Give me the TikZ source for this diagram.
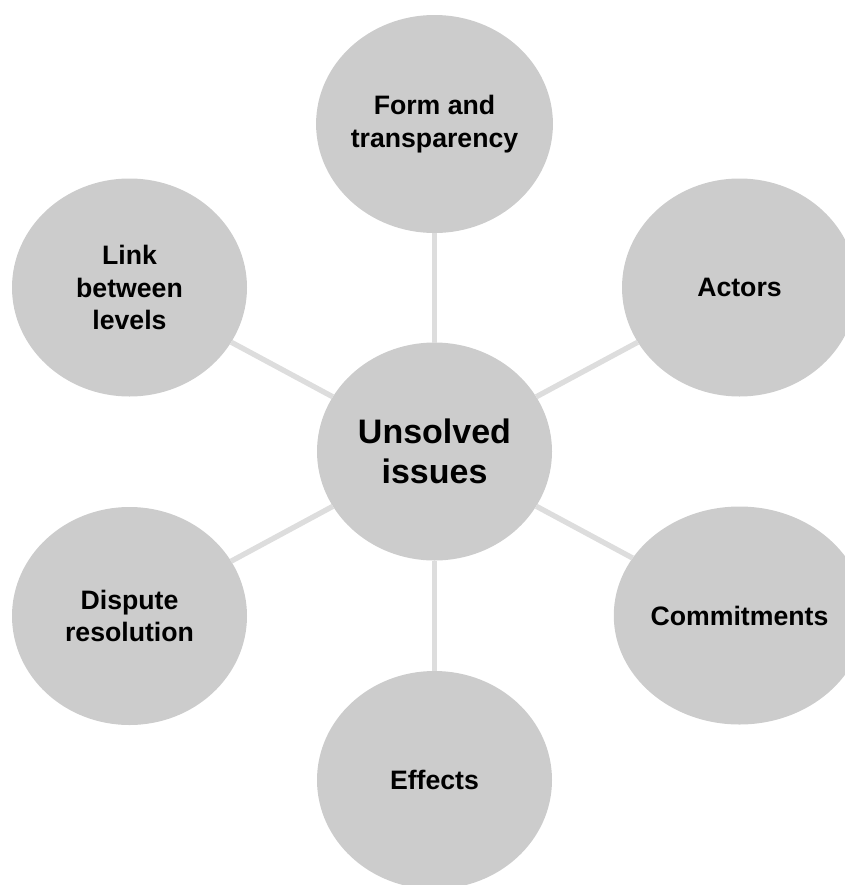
\documentclass[tikz,border=0pt]{standalone}
\usepackage{fontspec}
\setmainfont{Liberation Sans}
\usepackage{tikz}
\usetikzlibrary{shapes.geometric}

\definecolor{bubblegray}{HTML}{CCCCCC}
\definecolor{spokegray}{HTML}{DDDDDD}

\begin{document}
\begin{tikzpicture}[x=0.75pt, y=-0.75pt,
    bubble/.style={ellipse, fill=bubblegray, inner sep=0pt, outer sep=0pt,
        minimum width=176.25pt, minimum height=163.5pt, align=center,
        font=\fontsize{20}{24.5}\selectfont\bfseries},
    hub/.style={bubble, font=\fontsize{25.5}{30}\selectfont\bfseries},
    spoke/.style={draw=spokegray, line width=4pt}]
    \useasboundingbox (0, 0) rectangle (845, 885);

    \node[hub] (issues) at (434.5, 451.5) {Unsolved\\issues};
    \node[bubble] (form) at (434.5, 124) {Form and\\transparency};
    \node[bubble] (actors) at (739.5, 287.5) {Actors};
    \node[bubble] (commit) at (739.5, 615.5) {Commitments};
    \node[bubble] (effects) at (434.5, 780) {Effects};
    \node[bubble] (dispute) at (129.5, 616) {Dispute\\resolution};
    \node[bubble] (link) at (129.5, 287.5) {Link\\between\\levels};

    \draw (issues) edge[spoke] (form)
          (issues) edge[spoke] (actors)
          (issues) edge[spoke] (commit)
          (issues) edge[spoke] (effects)
          (issues) edge[spoke] (dispute)
          (issues) edge[spoke] (link);
\end{tikzpicture}
\end{document}
